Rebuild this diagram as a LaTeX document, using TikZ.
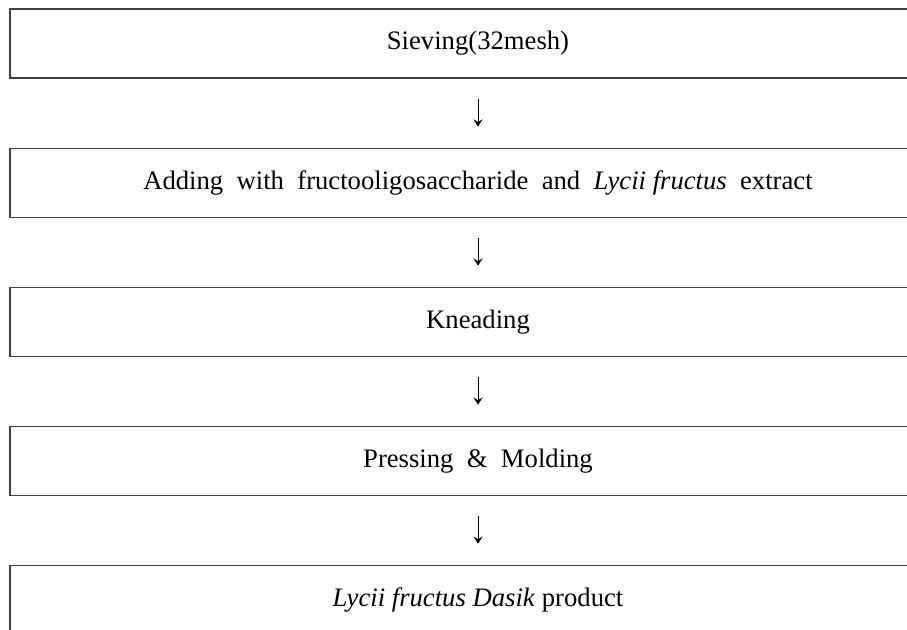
\documentclass[tikz,border=0pt]{standalone}
\usepackage{fontspec}
\setmainfont{Liberation Serif}
\usetikzlibrary{arrows.meta,positioning}

\begin{document}
\begin{tikzpicture}[
  x=0.75pt, y=-0.75pt,
  font=\fontsize{20}{24}\selectfont,
  >={Stealth[length=5.5pt,width=7pt,inset=2.2pt]},
  % Box styles
  stepbox/.style={
    draw=black!75, line width=0.8pt,
    minimum width=702pt, minimum height=51.75pt, inner sep=0pt
  },
  arrow/.style={->, line width=0.6pt, shorten <=15pt, shorten >=15.75pt},
  node distance=51.75pt
]
\useasboundingbox (0,0) rectangle (907,629);
\clip (0,0) rectangle (907,629);

% ── Process steps ────────────────────────────────────────────────────────────
\node[stepbox] at (478,43.5) (sieve) {Sieving(32mesh)};
\node[stepbox, below=of sieve]  (adding)  {Adding~ with~ fructooligosaccharide~ and~ \textit{Lycii fructus}~ extract};
\node[stepbox, below=of adding] (knead)   {Kneading};
\node[stepbox, below=of knead]  (press)   {Pressing~ \&~ Molding};
\node[stepbox, below=of press]  (product) {\textit{Lycii fructus Dasik} product};

% ── Arrows ───────────────────────────────────────────────────────────────────
\draw[arrow] (sieve)  -- (adding);
\draw[arrow] (adding) -- (knead);
\draw[arrow] (knead)  -- (press);
\draw[arrow] (press)  -- (product);

\end{tikzpicture}
\end{document}
